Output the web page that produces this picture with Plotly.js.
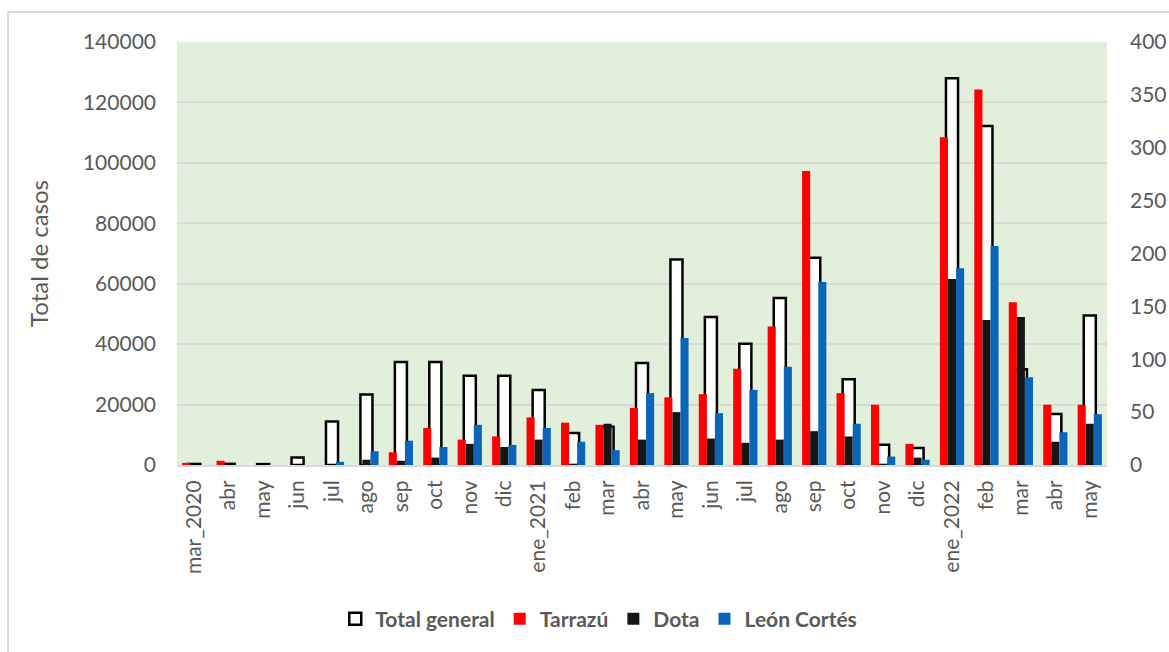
<!DOCTYPE html>
<html>
<head>
<meta charset="utf-8">
<script src="https://cdn.plot.ly/plotly-3.0.1.min.js"></script>
<style>
html,body{margin:0;padding:0;background:#fff;}
#chart{width:1169px;height:652px;}
</style>
</head>
<body>
<div id="chart"></div>
<script>
// Category keys (unique) and the labels shown on the axis
const categories = ["mar_2020","abr_2020","may_2020","jun_2020","jul_2020","ago_2020","sep_2020","oct_2020","nov_2020","dic_2020",
  "ene_2021","feb_2021","mar_2021","abr_2021","may_2021","jun_2021","jul_2021","ago_2021","sep_2021","oct_2021","nov_2021","dic_2021",
  "ene_2022","feb_2022","mar_2022","abr_2022","may_2022"];
const tickLabels = ["mar_2020","abr","may","jun","jul","ago","sep","oct","nov","dic",
  "ene_2021","feb","mar","abr","may","jun","jul","ago","sep","oct","nov","dic",
  "ene_2022","feb","mar","abr","may"];

// Left axis: Total general
const totalGeneral = [350, 380, 300, 2450, 14400, 23300, 34100, 34100, 29500, 29500,
  24800, 10600, 12700, 33800, 68000, 49000, 40100, 55300, 68600, 28400, 6700, 5600,
  128000, 112200, 31700, 16900, 49500];
// Right axis: cantones
const tarrazu = [2, 4, 0, 0, 0, 0, 12, 35, 24, 27,
  45, 40, 38, 54, 64, 67, 91, 131, 278, 68, 57, 20,
  310, 355, 154, 57, 57];
const dota = [0, 0, 0, 0, 0, 5, 4, 7, 20, 17,
  24, 1, 39, 24, 50, 25, 21, 24, 32, 27, 1, 7,
  176, 137, 140, 22, 39];
const leonCortes = [0, 0, 0, 0, 3, 13, 23, 17, 38, 19,
  35, 22, 14, 68, 120, 49, 71, 93, 173, 39, 8, 5,
  186, 207, 83, 31, 48];

const FONT = "Lato, 'Open Sans', sans-serif";
const GREY = "#595959";

const traces = [
  {type:"bar", name:"Total general", x:categories, y:totalGeneral, yaxis:"y",
   width:0.35, offset:-0.175,
   marker:{color:"#ffffff", line:{color:"#000000", width:2.5}}, hoverinfo:"x+y"},
  {type:"bar", name:"Tarrazú", x:categories, y:tarrazu, yaxis:"y2",
   width:0.235, offset:-0.352,
   marker:{color:"#ff0000", line:{width:0}}},
  {type:"bar", name:"Dota", x:categories, y:dota, yaxis:"y2",
   width:0.234, offset:-0.117,
   marker:{color:"#161616", line:{width:0}}},
  {type:"bar", name:"León Cortés", x:categories, y:leonCortes, yaxis:"y2",
   width:0.235, offset:0.117,
   marker:{color:"#0b66b8", line:{width:0}}}
];

const L = 177, R = 61.5, T = 42, B = 187;
const PW = 1169 - L - R, PH = 652 - T - B;

const layout = {
  width:1169, height:652,
  margin:{l:L, r:R, t:T, b:B, pad:0},
  paper_bgcolor:"#ffffff",
  plot_bgcolor:"#e2efda",
  barmode:"overlay",
  font:{family:FONT, color:GREY, size:21},
  showlegend:true,
  legend:{orientation:"h", x:0.4535, xanchor:"center", y:(465-619)/PH, yanchor:"middle",
    font:{family:FONT, size:21, color:GREY, weight:"bold"}, traceorder:"normal",
    itemwidth:30, bgcolor:"rgba(0,0,0,0)"},
  xaxis:{
    type:"category", range:[-0.5, 26.5],
    tickvals:categories, ticktext:tickLabels, tickangle:-90,
    tickfont:{family:FONT, size:21, color:GREY},
    showgrid:false, ticks:"", showline:true, linecolor:"#d9d9d9", linewidth:2,
    ticklabelstandoff:5, fixedrange:true
  },
  yaxis:{
    range:[0,140000], dtick:20000, tick0:0,
    tickfont:{family:FONT, size:21, color:GREY},
    gridcolor:"#d9d9d9", gridwidth:2, zeroline:false, showline:false, ticks:"",
    ticklabelstandoff:20,
    title:{text:"Total de casos", font:{family:FONT, size:24, color:GREY}, standoff:27},
    tickformat:"d", fixedrange:true
  },
  yaxis2:{
    range:[0,400], dtick:50, tick0:0, overlaying:"y", side:"right",
    tickfont:{family:FONT, size:21, color:GREY},
    showgrid:false, zeroline:false, showline:false, ticks:"",
    ticklabelstandoff:22, fixedrange:true
  },
  shapes:[
    {type:"rect", xref:"paper", yref:"paper",
     x0:(8-L)/PW, x1:(1200-L)/PW, y0:(465-700)/PH, y1:(465-12)/PH,
     line:{color:"#d9d9d9", width:2}, fillcolor:"rgba(0,0,0,0)", layer:"below"}
  ]
};

Plotly.newPlot("chart", traces, layout, {displayModeBar:false, staticPlot:true});
</script>
</body>
</html>
